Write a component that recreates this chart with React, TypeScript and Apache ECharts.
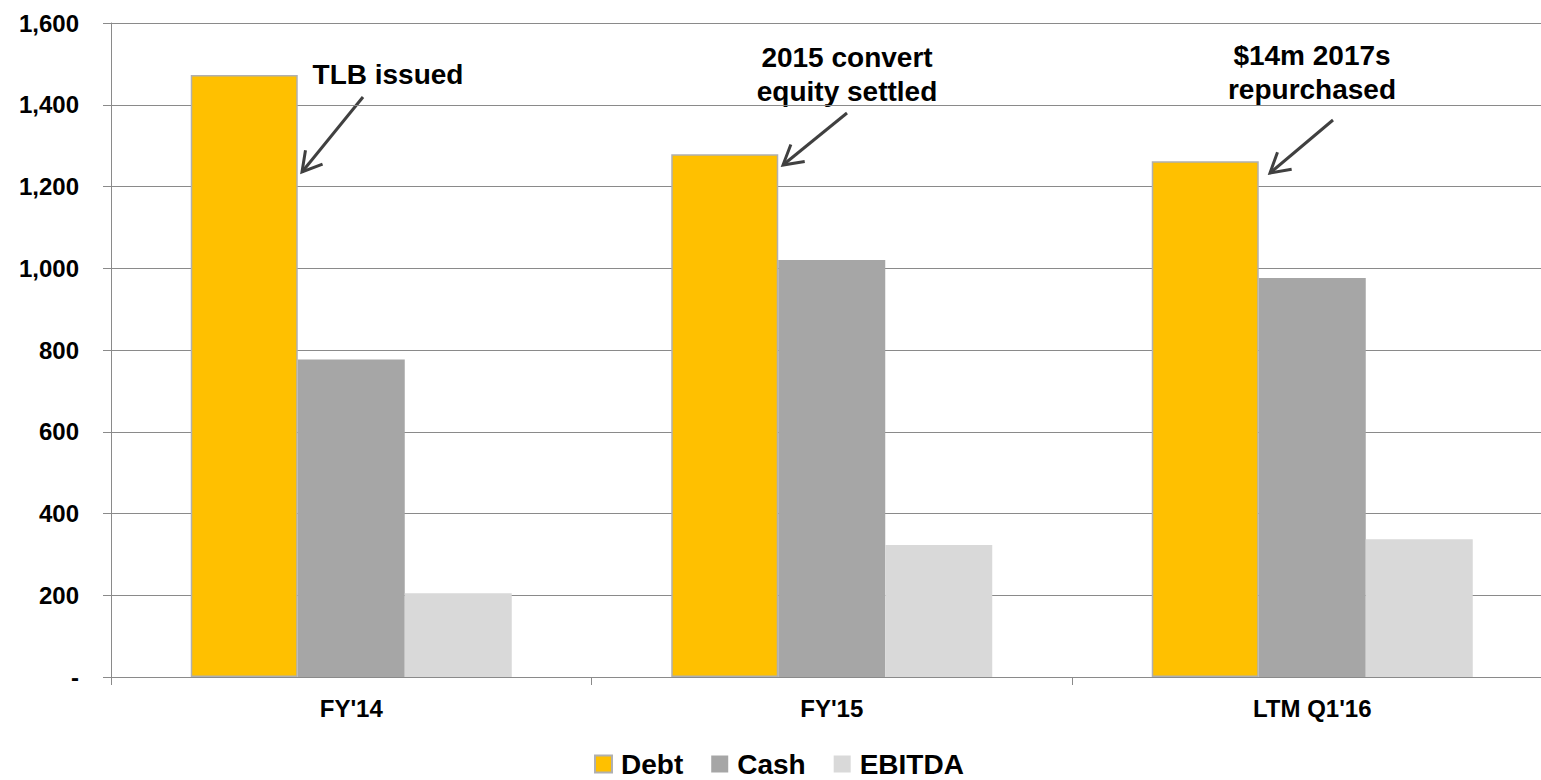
import React, { useEffect, useRef } from "react";
import * as echarts from "echarts";

const categories = ["FY'14", "FY'15", "LTM Q1'16"];
const seriesNames = ["Debt", "Cash", "EBITDA"];
const debt = [1473, 1279, 1262];
const cash = [777, 1020, 976];
const ebitda = [205, 323, 337];
const yMin = 0;
const yMax = 1600;
const yInterval = 200;

const annotationTexts = ["TLB issued", "2015 convert\nequity settled", "$14m 2017s\nrepurchased"];

const FONT = "'Liberation Sans', Arial, sans-serif";

function arrow(from: number[], to: number[]) {
  const ang = Math.atan2(from[1] - to[1], from[0] - to[0]);
  const len = 22;
  const spread = Math.PI / 6;
  const w1 = [to[0] + len * Math.cos(ang + spread), to[1] + len * Math.sin(ang + spread)];
  const w2 = [to[0] + len * Math.cos(ang - spread), to[1] + len * Math.sin(ang - spread)];
  const style = { stroke: "#404040", lineWidth: 3, fill: null as any };
  return [
    { type: "line", shape: { x1: from[0], y1: from[1], x2: to[0], y2: to[1] }, style },
    { type: "polyline", shape: { points: [w1, to, w2] }, style: { ...style, lineJoin: "miter" } },
  ];
}

export default function App() {
  const ref = useRef<HTMLDivElement>(null);
  useEffect(() => {
    if (!ref.current) return;
    const chart = echarts.init(ref.current, undefined, { renderer: "svg" });
    const annPos = [
      { x: 388, y: 74, from: [363, 97], to: [302, 172] },
      { x: 847, y: 74, from: [847, 113], to: [783, 165] },
      { x: 1312, y: 72, from: [1333, 120], to: [1270, 173] },
    ];
    const graphics: any[] = [];
    annPos.forEach((a, i) => {
      graphics.push({
        type: "text",
        x: a.x,
        y: a.y,
        style: {
          text: annotationTexts[i],
          font: `bold 28px ${FONT}`,
          fill: "#000",
          textAlign: "center",
          textVerticalAlign: "middle",
          lineHeight: 34,
        },
      });
      graphics.push(...arrow(a.from, a.to));
    });
    const axisGray = "#8a8a8a";
    chart.setOption({
      animation: false,
      backgroundColor: "#fff",
      textStyle: { fontFamily: FONT },
      grid: {
        left: 111,
        top: 23,
        width: 1441.5,
        height: 654,
        containLabel: false,
        outerBoundsMode: "none",
      },
      legend: {
        data: seriesNames,
        left: 589,
        top: 745,
        itemWidth: 17,
        itemHeight: 17,
        itemGap: 28,
        icon: "rect",
        textStyle: {
          fontSize: 28,
          fontWeight: "bold",
          color: "#000",
          fontFamily: FONT,
          padding: [0, 0, 0, 4],
          lineHeight: 28,
        },
      },
      xAxis: {
        type: "category",
        data: categories,
        axisLine: { lineStyle: { color: axisGray, width: 1 } },
        axisTick: { show: true, length: 8, lineStyle: { color: axisGray } },
        axisLabel: { fontSize: 24, fontWeight: "bold", color: "#000", margin: 19, fontFamily: FONT },
      },
      yAxis: {
        type: "value",
        min: yMin,
        max: yMax,
        interval: yInterval,
        axisLine: { show: true, lineStyle: { color: axisGray, width: 1 } },
        axisTick: { show: true, length: 8, lineStyle: { color: axisGray } },
        splitLine: { show: true, lineStyle: { color: axisGray, width: 1 } },
        axisLabel: {
          fontSize: 24,
          fontWeight: "bold",
          color: "#000",
          margin: 32,
          fontFamily: FONT,
          formatter: (v: number) => (v === 0 ? "-" : v.toLocaleString("en-US")),
        },
      },
      series: [
        {
          name: seriesNames[0],
          type: "bar",
          data: debt,
          barWidth: 107,
          barGap: "0%",
          itemStyle: { color: "#FFC000", borderColor: "#b0b0b0", borderWidth: 1.5 },
        },
        {
          name: seriesNames[1],
          type: "bar",
          data: cash,
          barWidth: 107,
          barGap: "0%",
          itemStyle: { color: "#A6A6A6" },
        },
        {
          name: seriesNames[2],
          type: "bar",
          data: ebitda,
          barWidth: 107,
          barGap: "0%",
          itemStyle: { color: "#D9D9D9" },
        },
      ],
      graphic: graphics,
    });
    return () => chart.dispose();
  }, []);
  return (
    <div
      ref={ref}
      style={{ position: "fixed", left: 0, top: 0, width: 1541, height: 780, overflow: "hidden" }}
    />
  );
}
